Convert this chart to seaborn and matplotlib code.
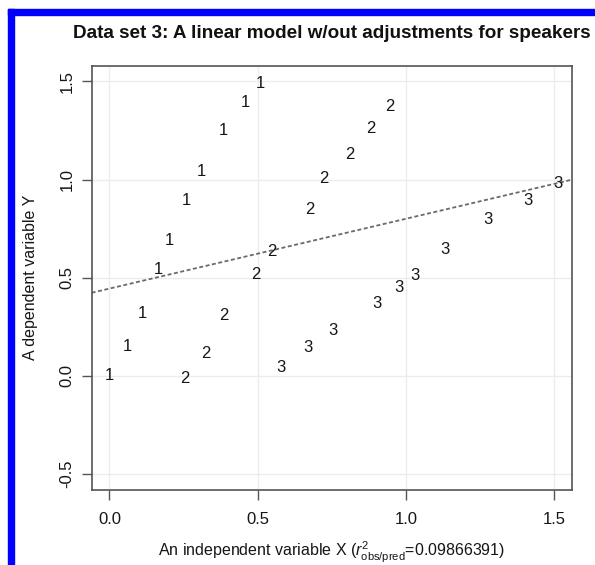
import numpy as np
import pandas as pd
import matplotlib
matplotlib.use("Agg")
import matplotlib.pyplot as plt
from matplotlib.patches import Rectangle
import seaborn as sns

# ---- data ----
speaker1_x = [0.000, 0.061, 0.111, 0.165, 0.202, 0.259, 0.309, 0.384, 0.458, 0.508]
speaker1_y = [0.000, 0.149, 0.319, 0.539, 0.688, 0.895, 1.039, 1.248, 1.395, 1.489]
speaker2_x = [0.253, 0.324, 0.387, 0.495, 0.548, 0.675, 0.724, 0.812, 0.883, 0.947]
speaker2_y = [-0.012, 0.115, 0.305, 0.514, 0.632, 0.848, 1.004, 1.129, 1.258, 1.373]
speaker3_x = [0.579, 0.671, 0.753, 0.904, 0.977, 1.031, 1.132, 1.278, 1.411, 1.514]
speaker3_y = [0.044, 0.146, 0.229, 0.370, 0.451, 0.510, 0.644, 0.797, 0.895, 0.980]
speaker_labels = ["1", "2", "3"]
x_ticks = [0.0, 0.5, 1.0, 1.5]
y_ticks = [-0.5, 0.0, 0.5, 1.0, 1.5]
x_tick_labels = ["0.0", "0.5", "1.0", "1.5"]
y_tick_labels = ["-0.5", "0.0", "0.5", "1.0", "1.5"]
r2_text = "0.09866391"

df = pd.DataFrame({
    "x": speaker1_x + speaker2_x + speaker3_x,
    "y": speaker1_y + speaker2_y + speaker3_y,
    "speaker": [speaker_labels[0]] * len(speaker1_x)
             + [speaker_labels[1]] * len(speaker2_x)
             + [speaker_labels[2]] * len(speaker3_x),
})

sns.set_theme(style="white")
plt.rcParams["font.family"] = ["Liberation Sans", "DejaVu Sans"]
plt.rcParams["mathtext.fontset"] = "custom"
plt.rcParams["mathtext.rm"] = "Liberation Sans"
plt.rcParams["mathtext.it"] = "Liberation Sans:italic"

fig = plt.figure(figsize=(5.95, 5.65), dpi=100)
ax = fig.add_axes([0.1541, 0.1336, 0.8067, 0.7501])
ax.set_xlim(-0.06, 1.56)
ax.set_ylim(-0.58, 1.58)

# grid
for xv in x_ticks:
    ax.axvline(xv, color="#ececec", lw=1.0, zorder=0)
for yv in y_ticks:
    ax.axhline(yv, color="#ececec", lw=1.0, zorder=0)

# pooled regression line across the full axis
sns.regplot(data=df, x="x", y="y", scatter=False, ci=None, truncate=False, ax=ax,
            line_kws=dict(color="#6a6a6a", lw=1.3, linestyle=(0, (2.2, 1.4))))
ax.set_xlim(-0.06, 1.56)
ax.set_ylim(-0.58, 1.58)

# speaker numbers as plotting symbols
for xv, yv, lab in zip(df["x"], df["y"], df["speaker"]):
    ax.text(xv, yv, lab, ha="center", va="center", fontsize=12, color="#161616", zorder=3)

ax.set_xticks(x_ticks)
ax.set_xticklabels(x_tick_labels)
ax.set_yticks(y_ticks)
ax.set_yticklabels(y_tick_labels, rotation=90, va="center")
ax.tick_params(axis="both", direction="out", length=7.5, width=1.0, color="#555555",
               labelsize=12, labelcolor="#161616", bottom=True, left=True)
ax.tick_params(axis="x", pad=9)
ax.tick_params(axis="y", pad=5)
for s in ax.spines.values():
    s.set_color("#555555")
    s.set_linewidth(1.2)

ax.set_xlabel(r"An independent variable X ($r^2_{\mathrm{obs/pred}}$=" + r2_text + ")",
              fontsize=11.5, color="#161616", labelpad=9)
ax.set_ylabel("A dependent variable Y", fontsize=11.5, color="#161616", labelpad=15)
ax.set_title("Data set 3: A linear model w/out adjustments for speakers",
             fontsize=13.6, fontweight="bold", color="#111111", pad=20)

# blue frame on the left and top edges
fig.patches.append(Rectangle((8 / 595, 0), 5.5 / 595, 1 - 9 / 565,
                             transform=fig.transFigure, color="#0000ff", zorder=10))
fig.patches.append(Rectangle((8 / 595, 1 - 15 / 565), 1, 6 / 565,
                             transform=fig.transFigure, color="#0000ff", zorder=10))

fig.savefig("out.png", dpi=100)
